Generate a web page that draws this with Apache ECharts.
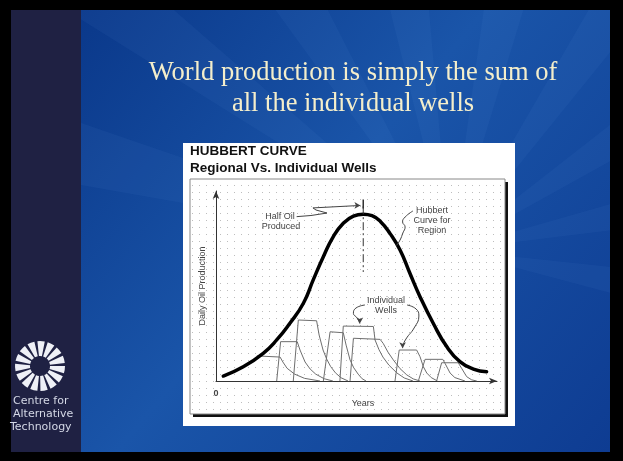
<!DOCTYPE html>
<html>
<head>
<meta charset="utf-8">
<script src="https://cdn.jsdelivr.net/npm/echarts@6/dist/echarts.min.js"></script>
<style>
  html, body { margin: 0; padding: 0; background: #000; }
  #main { width: 623px; height: 461px; }
</style>
</head>
<body>
<div id="main"></div>
<script>
// Hubbert curve for the region  [years, production]
const hubbertCurve = [
  [2.6, 2.6], [9.7, 7.5], [16.8, 14.6], [21.6, 21.6], [26.3, 30.4], [31.1, 40.9],
  [34.6, 53.2], [38.2, 65.4], [41.7, 75.9], [45.3, 83], [48.9, 86.8], [52.4, 87.8],
  [55.5, 87], [58.5, 84], [61.9, 77.7], [65.5, 68.9], [69, 56.7], [72.6, 44.4], [77.3, 30.4],
  [82.1, 18.1], [86.8, 10.2], [91.6, 6.3], [96.3, 4.9]
];

// individual wells: rise, plateau, decline
const well1 = [[14.5, 13.2], [22.8, 12.6], [23.8, 10], [25.3, 6.7], [28, 3.6], [31.5, 1.4], [37, 0]];
const well2 = [[21.6, 0], [23, 20.7], [28.9, 20.7], [29.9, 16.3], [31.7, 10], [33.5, 6.3], [35.5, 3.6], [38.5, 1.2], [41.6, 0]];
const well3 = [[27.5, 0], [29.3, 32.1], [35.8, 31.7], [36.7, 24.2], [38.1, 16.3], [39.4, 11.5], [40.8, 7.6], [42.5, 4.3], [44.5, 1.7], [47, 0]];
const well4 = [[38.2, 0], [40.6, 25.9], [45.3, 25.4], [46.3, 18.9], [47.7, 11.1], [49, 7], [50.6, 3.6], [52, 1.2], [53.4, 0]];
const well5 = [[44.1, 0], [45.3, 28.9], [56, 28.7], [56.6, 21.6], [58, 16.5], [59.4, 12.6], [61.5, 8.4], [64.4, 4.2], [67, 1.6], [70.1, 0]];
const well6 = [[47.7, 0], [48.9, 22.5], [58.4, 21.9], [59.5, 19.8], [61.2, 15.2], [63.1, 11.1], [65.5, 6.5], [67.9, 3.2], [70.2, 1.1], [72.6, 0]];
const well7 = [[63.7, 0], [65.2, 16.3], [71.4, 16.3], [72.6, 12.8], [73.8, 7.5], [75, 4.2], [76.6, 1.8], [78.8, 0]];
const well8 = [[72, 0], [74.4, 11.4], [80.7, 11.4], [81.5, 9.3], [83.3, 4.2], [85, 1.8], [88.6, 0]];
const well9 = [[78.5, 0], [80.3, 9.6], [86.2, 9.6], [87.4, 6.7], [89.2, 2.3], [91, 0.6], [92.8, 0]];
const wells = [well1, well2, well3, well4, well5, well6, well7, well8, well9];

// peak marker and annotation leaders
const peakLine = [[52.4, 92], [52.4, 57.4]];
const peakBar = [[52.4, 95.5], [52.4, 90.8]];
const halfOilLeader = [[28.7, 86.5], [33.8, 87.1], [39.5, 88.4], [35.6, 90], [34.5, 91.1], [51.4, 92.4]];
const hubbertLeader = [[70.1, 89.5], [67.3, 86.3], [66.4, 83.7], [67.3, 81.1], [66.5, 77.9], [65.5, 74.2], [64.2, 71.3]];
const wellsLeaderLeft = [[53, 40], [49.8, 38.4], [48.9, 35.6], [50.2, 33.2], [51.2, 30.2]];
const wellsLeaderRight = [[68, 40], [71.2, 37.9], [72.2, 34.2], [70.5, 27.9], [67.6, 22.1], [66.5, 18.4], [66.4, 17.3]];

// texts
const slideTitle = ['World production is simply the sum of', 'all the individual wells'];
const chartTitle = ['HUBBERT CURVE', 'Regional Vs. Individual Wells'];
const logoText = ['Centre for', 'Alternative', 'Technology'];

const myChart = echarts.init(document.getElementById('main'));

// dotted paper pattern
const dotCanvas = document.createElement('canvas');
dotCanvas.width = 7;
dotCanvas.height = 7;
const dctx = dotCanvas.getContext('2d');
dctx.fillStyle = '#bdbdbd';
dctx.fillRect(3, 3, 1, 1);

// slide background
const graphics = [
  { type: 'rect', z: -20, shape: { x: 0, y: 0, width: 623, height: 461 }, style: { fill: '#000' } },
  {
    type: 'rect', z: -19, shape: { x: 81, y: 10, width: 529, height: 442 },
    style: {
      fill: new echarts.graphic.LinearGradient(0, 0, 1, 1, [
        { offset: 0, color: '#0a388a' },
        { offset: 0.45, color: '#1a55a9' },
        { offset: 1, color: '#0e3c92' }
      ])
    }
  }
];
// faint rays
const rayCx = 450, rayCy = 250;
for (let i = 0; i < 9; i++) {
  const a0 = (-170 + i * 22) * Math.PI / 180;
  const a1 = a0 + 9 * Math.PI / 180;
  const R = 600;
  graphics.push({
    type: 'polygon', z: -18,
    shape: { points: [[rayCx, rayCy], [rayCx + R * Math.cos(a0), rayCy + R * Math.sin(a0)], [rayCx + R * Math.cos(a1), rayCy + R * Math.sin(a1)]] },
    style: { fill: 'rgba(120,170,235,0.06)' }
  });
}
// cover the rays outside the blue area
graphics.push(
  { type: 'rect', z: -17, shape: { x: 0, y: 0, width: 623, height: 10 }, style: { fill: '#000' } },
  { type: 'rect', z: -17, shape: { x: 0, y: 452, width: 623, height: 9 }, style: { fill: '#000' } },
  { type: 'rect', z: -17, shape: { x: 610, y: 0, width: 13, height: 461 }, style: { fill: '#000' } },
  { type: 'rect', z: -17, shape: { x: 0, y: 0, width: 11, height: 461 }, style: { fill: '#000' } },
  { type: 'rect', z: -17, shape: { x: 11, y: 10, width: 70, height: 442 }, style: { fill: '#1f2143' } }
);

// logo
for (let i = 0; i < 15; i++) {
  const s = (i * 24) * Math.PI / 180;
  graphics.push({
    type: 'sector', z: -15,
    shape: { cx: 40, cy: 366, r0: 10, r: 25, startAngle: s, endAngle: s + 17 * Math.PI / 180 },
    style: { fill: '#eef0f6' }
  });
}
logoText.forEach((t, i) => {
  graphics.push({
    type: 'text', z: -15,
    style: { text: t, x: i === 2 ? 10 : 13, y: 401 + i * 13, font: '11px "DejaVu Sans"', fill: '#d4d8e6', align: 'left', verticalAlign: 'middle' }
  });
});

// slide title
slideTitle.forEach((t, i) => {
  graphics.push({
    type: 'text', z: -15,
    style: { text: t, x: 353, y: 73 + i * 31, font: '26.5px "Liberation Serif"', fill: '#f4eecb', align: 'center', verticalAlign: 'middle' }
  });
});

// chart panel
graphics.push(
  { type: 'rect', z: -14, shape: { x: 183, y: 143, width: 332, height: 283 }, style: { fill: '#fff' } },
  { type: 'rect', z: -13, shape: { x: 193, y: 182, width: 315, height: 235 }, style: { fill: '#111' } },
  { type: 'rect', z: -12, shape: { x: 190, y: 179, width: 315, height: 235 }, style: { fill: '#fff', stroke: '#888', lineWidth: 1 } },
  { type: 'rect', z: -11, shape: { x: 191, y: 180, width: 313, height: 233 }, style: { fill: { image: dotCanvas, repeat: 'repeat' } } }
);
chartTitle.forEach((t, i) => {
  graphics.push({
    type: 'text', z: -10,
    style: { text: t, x: 190, y: 151.5 + i * 16.5, font: 'bold 13.5px "Liberation Sans"', fill: '#111', align: 'left', verticalAlign: 'middle' }
  });
});

// annotation texts
const noteStyle = { font: '9px "Liberation Sans"', fill: '#444', align: 'center', verticalAlign: 'middle' };
[
  ['Half Oil', 280, 216.5], ['Produced', 281, 226.5],
  ['Hubbert', 432, 211], ['Curve for', 432, 221], ['Region', 432, 231],
  ['Individual', 386, 301], ['Wells', 386, 311]
].forEach(([t, x, y]) => {
  graphics.push({ type: 'text', z: 100, style: Object.assign({ text: t, x: x, y: y }, noteStyle) });
});

const wellSeries = wells.map((w) => ({
  type: 'line',
  data: w,
  symbol: 'none',
  silent: true,
  z: 2,
  lineStyle: { color: '#6e6e6e', width: 1 }
}));

const arrowTip = (pts, rot) => pts.map((p, i) => i === pts.length - 1
  ? { value: p, symbol: 'arrow', symbolSize: [5, 6], symbolRotate: rot }
  : { value: p, symbol: 'none' });

const option = {
  animation: false,
  graphic: graphics,
  grid: { left: 216, top: 191, width: 281, height: 190, outerBoundsMode: 'none' },
  xAxis: {
    type: 'value',
    min: 0,
    max: 100,
    interval: 100,
    name: 'Years',
    nameLocation: 'middle',
    nameGap: 12,
    nameTextStyle: { fontSize: 9, color: '#444', fontFamily: 'Liberation Sans', padding: [0, 0, 0, 13] },
    axisLine: { lineStyle: { color: '#333', width: 1 }, symbol: ['none', 'arrow'], symbolSize: [5, 8] },
    axisTick: { show: false },
    splitLine: { show: false },
    axisLabel: {
      margin: 8,
      fontSize: 9,
      fontWeight: 'bold',
      color: '#444',
      fontFamily: 'Liberation Sans',
      formatter: (v) => (v === 0 ? '0' : '')
    }
  },
  yAxis: {
    type: 'value',
    min: 0,
    max: 100,
    name: 'Daily Oil Production',
    nameLocation: 'middle',
    nameRotate: 90,
    nameGap: 9,
    nameTextStyle: { fontSize: 9, color: '#444', fontFamily: 'Liberation Sans' },
    axisLine: { show: true, lineStyle: { color: '#333', width: 1 }, symbol: ['none', 'arrow'], symbolSize: [5, 8] },
    axisTick: { show: false },
    splitLine: { show: false },
    axisLabel: { show: false }
  },
  series: [
    ...wellSeries,
    {
      name: 'Hubbert',
      type: 'line',
      data: hubbertCurve,
      smooth: true,
      symbol: 'none',
      z: 3,
      lineStyle: { color: '#000', width: 3.5, cap: 'round' }
    },
    {
      type: 'line', data: peakLine, symbol: 'none', z: 3,
      lineStyle: { color: '#333', width: 1, type: [8, 3, 2, 3] }
    },
    {
      type: 'line', data: peakBar, symbol: 'none', z: 3,
      lineStyle: { color: '#333', width: 1.5 }
    },
    {
      type: 'line', data: arrowTip(halfOilLeader, -90), z: 3,
      itemStyle: { color: '#444' },
      lineStyle: { color: '#444', width: 1 }
    },
    {
      type: 'line', data: hubbertLeader, smooth: true, symbol: 'none', z: 3,
      lineStyle: { color: '#444', width: 1 }
    },
    {
      type: 'line', data: arrowTip(wellsLeaderLeft, 180), smooth: true, z: 3,
      itemStyle: { color: '#444' },
      lineStyle: { color: '#444', width: 1 }
    },
    {
      type: 'line', data: arrowTip(wellsLeaderRight, 180), smooth: true, z: 3,
      itemStyle: { color: '#444' },
      lineStyle: { color: '#444', width: 1 }
    }
  ]
};

myChart.setOption(option);
window.addEventListener('resize', () => {
  myChart.resize();
});
</script>
</body>
</html>
